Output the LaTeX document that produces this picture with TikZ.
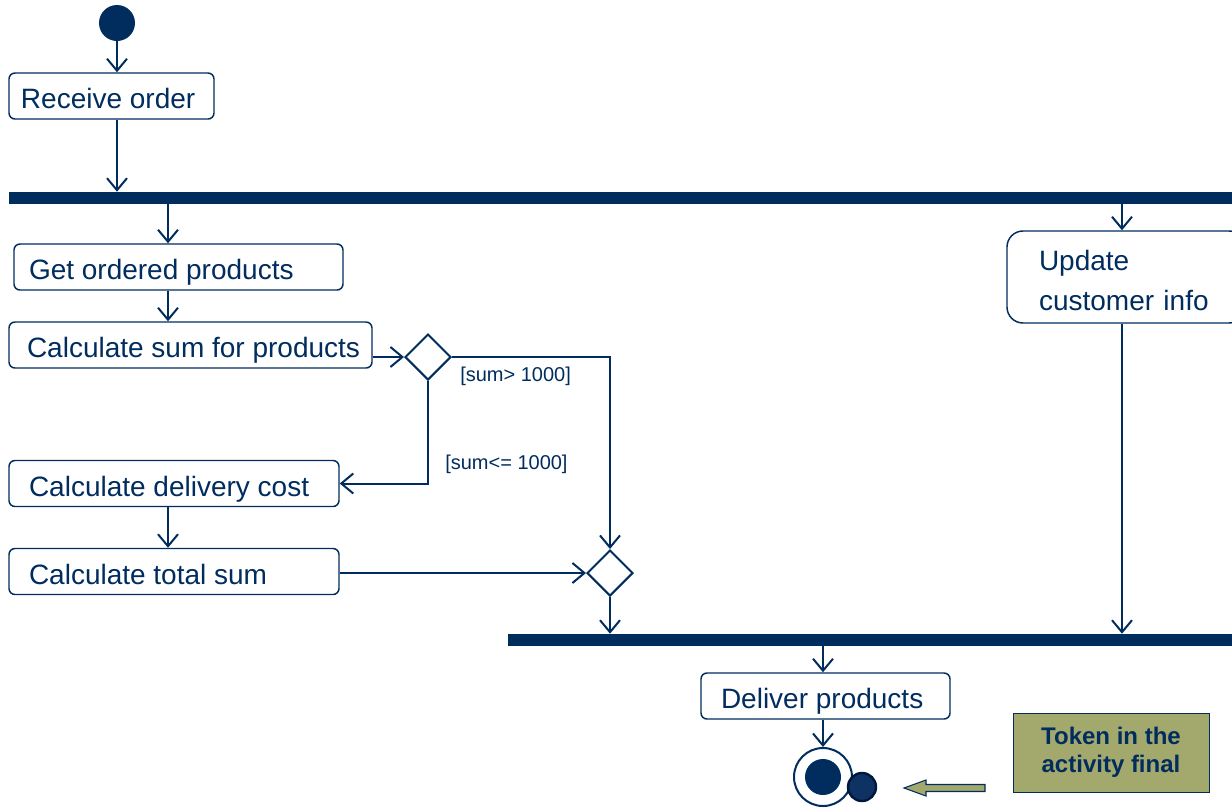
\documentclass[tikz,border=0pt]{standalone}
\usepackage{fontspec}
\setmainfont{Liberation Sans}
\usetikzlibrary{arrows.meta,shapes.geometric}
\definecolor{navy}{RGB}{0,44,94}
\definecolor{olive}{RGB}{163,168,108}
\definecolor{tokfill}{RGB}{14,50,100}
\definecolor{tokline}{RGB}{0,24,58}
\newcommand\padtxt[3]{\makebox[#1][l]{\hspace*{#2}#3}}
\begin{document}
\begin{tikzpicture}[x=0.75pt,y=-0.75pt,
  act/.style={draw=navy, line width=1.1pt, rounded corners=4.5pt, inner xsep=0pt, inner ysep=0pt,
    minimum height=34.5pt, text height=21pt, text depth=2pt, text=navy, font=\fontsize{21}{25}\selectfont},
  arr/.style={draw=navy, line width=1.5pt, -{Straight Barb[length=9pt,width=15pt,line width=1.5pt]}},
  bar/.style={fill=navy, inner sep=0pt, minimum height=9pt},
  dia/.style={diamond, draw=navy, line width=1.5pt, fill=white, inner sep=0pt, minimum width=34.5pt, minimum height=34.5pt},
  lbl/.style={text=navy, inner sep=0pt, font=\fontsize{15}{18}\selectfont},
  dot/.style={circle, fill=navy, inner sep=0pt}
]
\useasboundingbox (0,0) rectangle (1232,808);

% nodes
\node[dot, minimum size=27pt] (start) at (117,23) {};
\node[act] (recv) at (111.5,96) {\padtxt{153.75pt}{9pt}{Receive order}};
\node[bar, minimum width=923.25pt] (fork) at (624.5,198) {};
\node[act] (get) at (178.5,267) {\padtxt{246.75pt}{11.25pt}{Get ordered products}};
\node[act] (sum) at (190.5,345) {\padtxt{272.25pt}{13.5pt}{Calculate sum for products}};
\node[dia] (d1) at (428,357) {};
\node[act] (del) at (174,483.5) {\padtxt{247.5pt}{15pt}{Calculate delivery cost}};
\node[act] (tot) at (174,571.5) {\padtxt{247.5pt}{15pt}{Calculate total sum}};
\node[dia] (d2) at (610,573) {};
\node[bar, minimum width=549pt] (join) at (874,640) {};
\node[draw=navy, line width=1.1pt, text=navy, rounded corners=12pt, align=left, inner xsep=24pt, inner ysep=0pt,
  text width=130.5pt, minimum height=69pt, font=\fontsize{21}{30}\selectfont] (upd) at (1126,277)
  {\rule{0pt}{21pt}Update\\customer info};
\node[act] (dlv) at (825.5,696) {\padtxt{186.75pt}{15pt}{Deliver products}};
\node[circle, draw=navy, line width=1.5pt, fill=white, inner sep=0pt, minimum size=43.5pt] (final) at (823,777) {};
\node[dot, minimum size=27pt] (finalin) at (final.center) {};
\node[circle, fill=tokfill, draw=tokline, line width=1.8pt, inner sep=0pt, minimum size=21pt] (token) at (862,787) {};
\node[fill=olive, draw=navy, line width=0.6pt, minimum width=147pt, minimum height=59.25pt, align=center,
  text=navy, font=\bfseries\fontsize{18}{21}\selectfont] (note) at (1111,752.5) {Token in the\\activity final};
\node[lbl, anchor=west] (l1) at (460,376) {[sum> 1000]};
\node[lbl, anchor=west] (l2) at (445,464) {[sum<= 1000]};

\coordinate (xL) at (168,0);
\coordinate (xR) at (1122,0);
\coordinate (xD) at (823,0);

% connectors
\draw[arr] (start.south) -- (start.south |- recv.north);
\draw[arr] (recv.south -| start.south) -- (start.south |- fork.north);
\draw[arr] (fork.south -| xL) -- (get.north -| xL);
\draw[arr] (get.south -| xL) -- (sum.north -| xL);
\draw[arr] (d1.west -| sum.east) -- (d1.west);
\draw[arr] (d1.east) -| (d2.north);
\draw[arr] (d1.south) |- (del.east);
\draw[arr] (del.south -| xL) -- (tot.north -| xL);
\draw[arr] (d2.west -| tot.east) -- (d2.west);
\draw[arr] (d2.south) -- (d2.south |- join.north);
\draw[arr] (fork.south -| xR) -- (upd.north -| xR);
\draw[arr] (upd.south -| xR) -- (join.north -| xR);
\draw[arr] (join.south -| xD) -- (dlv.north -| xD);
\draw[arr] (dlv.south -| xD) -- (final.north);

% callout arrow
\draw[fill=olive, draw=navy, line width=0.8pt]
  (904,788) -- (926,780) -- (926,784.5) -- (985,784.5) -- (985,791.5) -- (926,791.5) -- (926,796) -- cycle;
\end{tikzpicture}
\end{document}
